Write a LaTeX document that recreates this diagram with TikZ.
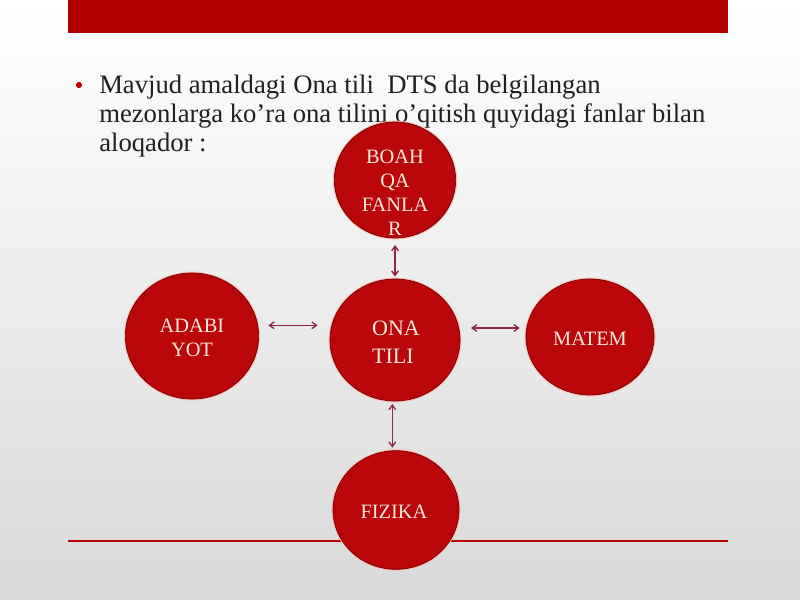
\documentclass[tikz,border=0pt]{standalone}
\usepackage{fontspec}
\setmainfont{Liberation Serif}
\usetikzlibrary{arrows.meta,shapes.geometric}
\definecolor{barred}{RGB}{176,0,0}
\definecolor{bubred}{RGB}{186,6,8}
\definecolor{bubedge}{RGB}{110,0,0}
\definecolor{bubtxt}{RGB}{252,232,220}
\definecolor{linkcol}{RGB}{142,36,80}
\definecolor{bodytext}{RGB}{32,32,32}
\tikzset{
	bubble/.style={ellipse, fill=bubred, draw=bubedge, line width=0.5pt, inner sep=0pt,
		preaction={draw=bubtxt!80!red, line width=2pt}},
	bubtext/.style={text=bubtxt, font=\fontsize{15.3}{18}\selectfont, align=center},
	link/.style={{Straight Barb[length=3.5pt,width=5pt]}-{Straight Barb[length=3.5pt,width=5pt]},
		draw=linkcol, line width=1pt}
}

\begin{document}
\begin{tikzpicture}[x=0.75pt, y=-0.75pt]
			%%%%% START %%%%%
			
			\shade[top color=white, bottom color=black!15] (0, 0) rectangle (800, 600);
			\useasboundingbox (0, 0) rectangle (800, 600);
			
			\fill[barred] (68, 0) rectangle (728, 33);
			\draw[line width=1.5pt, color=barred!85!red] (68, 541) -- (728, 541);
			
			\fill[barred!85!red] (79, 85) circle (2.3pt);
			\node[anchor=north west, align=left, inner sep=0pt, text=bodytext,
				font=\fontsize{20}{21.75}\selectfont] (intro) at (99, 75)
				{Mavjud amaldagi Ona tili \ DTS da belgilangan\\mezonlarga ko’ra ona tilini o’qitish quyidagi fanlar bilan\\aloqador :};
			
			\node[bubble, minimum width=91pt, minimum height=87pt] (boah) at (395, 180) {};
			\node[bubble, minimum width=97.5pt, minimum height=91.5pt] (ona) at (395, 340) {};
			\node[bubble, minimum width=100pt, minimum height=94.5pt] (adabi) at (192, 336) {};
			\node[bubble, minimum width=96pt, minimum height=87pt] (matem) at (590, 337) {};
			\node[bubble, minimum width=94.5pt, minimum height=89pt] (fizika) at (396, 510) {};
			
			\node[bubtext] (boahtxt) at (395, 193) {BOAH\\QA\\FANLA\\R};
			\node[bubtext] (onatxt) at (396, 342) [align=left, font=\fontsize{16.5}{21}\selectfont] {ONA\\TILI};
			\node[bubtext] (adabitxt) at (192, 338) {ADABI\\YOT};
			\node[bubtext] (matemtxt) at (590, 339) {MATEM};
			\node[bubtext] (fizikatxt) at (394, 512) {FIZIKA};
			
			\draw[link, shorten <=5pt, shorten >=1.5pt] (boah.south) -- (ona.north);
			\draw[link, shorten <=7pt, shorten >=9pt] ([yshift=8pt]adabi.east) -- ([yshift=8pt]adabi.east -| ona.west);
			\draw[link, shorten <=8pt, shorten >=4.5pt] ([yshift=9pt]ona.east) -- ([yshift=9pt]ona.east -| matem.west);
			\draw[link, shorten <=2pt, shorten >=2pt] ([xshift=-2pt]ona.south) -- ([xshift=-2pt]ona.south |- fizika.north);
			
			%%%%% END %%%%%
\end{tikzpicture}
\end{document}
